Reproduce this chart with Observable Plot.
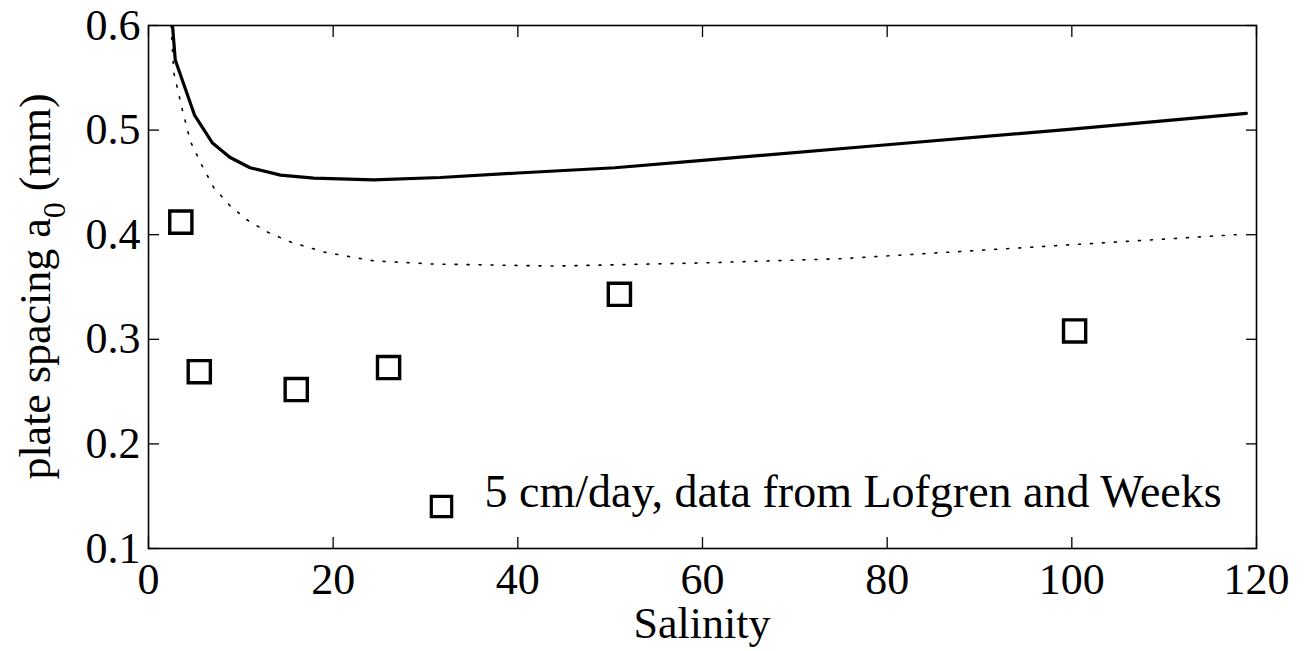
<!DOCTYPE html>
<html>
<head>
<meta charset="utf-8">
<script src="https://cdn.jsdelivr.net/npm/d3@7"></script>
<script src="https://cdn.jsdelivr.net/npm/@observablehq/plot@0.6"></script>
<style>
  html, body { margin: 0; padding: 0; background: #fff; }
  #chart { width: 1306px; height: 651px; }
  #chart svg, #chart svg text { font-family: "Liberation Serif", "Times New Roman", Times, serif !important; }
</style>
</head>
<body>
<div id="chart"></div>
<script>
// Model curve (solid)
const solidX = [2.6, 2.9, 5.0, 6.9, 8.8, 11.0, 14.3, 17.9, 24.4, 31.6, 40, 50.5, 60, 80, 100, 118.9];
const solidY = [0.600, 0.567, 0.514, 0.488, 0.474, 0.464, 0.457, 0.454, 0.4525, 0.4547, 0.459, 0.464, 0.471, 0.486, 0.501, 0.516];
// Model curve (dotted)
const dottedX = [2.45, 2.74, 3.65, 4.55, 5.8, 7.07, 8.8, 10.7, 13.0, 15.4, 19.2, 24.4, 30.7, 43.9, 60, 74.9, 95.5, 117.8];
const dottedY = [0.600, 0.555, 0.520, 0.489, 0.466, 0.445, 0.428, 0.414, 0.402, 0.393, 0.383, 0.375, 0.372, 0.370, 0.373, 0.377, 0.388, 0.400];
// Lofgren and Weeks data (5 cm/day)
const dataX = [3.5, 5.5, 16.0, 26.0, 51.0, 100.3];
const dataY = [0.412, 0.269, 0.252, 0.273, 0.343, 0.308];
// Ticks and labels
const xTicks = [0, 20, 40, 60, 80, 100, 120];
const yTicks = [0.1, 0.2, 0.3, 0.4, 0.5, 0.6];
const xLabel = "Salinity";
const yLabelMain = "plate spacing a";
const yLabelSub = "0";
const yLabelTail = " (mm)";
const legendLabel = "5 cm/day, data from Lofgren and Weeks";

const solid = solidX.map((x, i) => ({x, y: solidY[i]}));
const dotted = dottedX.map((x, i) => ({x, y: dottedY[i]}));
const pts = dataX.map((x, i) => ({x, y: dataY[i]}));

const FONT = "'Liberation Serif', 'Times New Roman', Times, serif";
const W = 1306, H = 651;
const mL = 148, mR = 50, mT = 25, mB = 103;

const plot = Plot.plot({
  width: W,
  height: H,
  marginLeft: mL,
  marginRight: mR,
  marginTop: mT,
  marginBottom: mB,
  style: {fontFamily: FONT, fontSize: "44px", color: "#000", background: "#fff"},
  x: {domain: [0, 120]},
  y: {domain: [0.1, 0.6]},
  marks: [
    // tick labels
    Plot.axisX(xTicks, {anchor: "bottom", tickSize: 0, tickPadding: 14, label: null, fontSize: 44, tickFormat: d => String(d)}),
    Plot.axisY(yTicks, {anchor: "left", tickSize: 0, tickPadding: 8, label: null, fontSize: 44, tickFormat: d => d.toFixed(1)}),
    // inward ticks on all four sides
    Plot.axisX(xTicks, {anchor: "bottom", tickSize: -11, fill: "none", label: null, strokeWidth: 1.3}),
    Plot.axisX(xTicks, {anchor: "top", tickSize: -11, fill: "none", label: null, strokeWidth: 1.3}),
    Plot.axisY(yTicks, {anchor: "left", tickSize: -11, fill: "none", label: null, strokeWidth: 1.3}),
    Plot.axisY(yTicks, {anchor: "right", tickSize: -11, fill: "none", label: null, strokeWidth: 1.3}),
    Plot.frame({stroke: "#000", strokeWidth: 1.6}),
    Plot.line(dotted, {x: "x", y: "y", stroke: "#000", strokeWidth: 1.6, strokeDasharray: "2,10", clip: true}),
    Plot.line(solid, {x: "x", y: "y", stroke: "#000", strokeWidth: 3.2, clip: true}),
    Plot.dot(pts, {x: "x", y: "y", symbol: "square", r: 12.5, stroke: "#000", strokeWidth: 3.4, fill: "none"}),
    // legend
    Plot.dot([legendLabel], {x: null, y: null, frameAnchor: "bottom-left", dx: 293, dy: -42, symbol: "square", r: 11.5, stroke: "#000", strokeWidth: 3.2, fill: "none"}),
    Plot.text([legendLabel], {text: d => d, frameAnchor: "bottom-left", dx: 336, dy: -42, textAnchor: "start", fontSize: 46, fill: "#000"})
  ]
});

const svg = d3.select(plot);
svg.append("text")
  .attr("x", mL + (W - mL - mR) / 2)
  .attr("y", 638)
  .attr("text-anchor", "middle")
  .attr("font-family", FONT)
  .attr("font-size", 44)
  .attr("fill", "#000")
  .text(xLabel);

const yl = svg.append("text")
  .attr("transform", `translate(50, ${mT + (H - mT - mB) / 2}) rotate(-90)`)
  .attr("text-anchor", "middle")
  .attr("font-family", FONT)
  .attr("font-size", 44)
  .attr("fill", "#000");
yl.append("tspan").text(yLabelMain);
yl.append("tspan").attr("dy", 15).attr("font-size", 32).text(yLabelSub);
yl.append("tspan").attr("dy", -15).text(yLabelTail);

document.getElementById("chart").appendChild(plot);
</script>
</body>
</html>
